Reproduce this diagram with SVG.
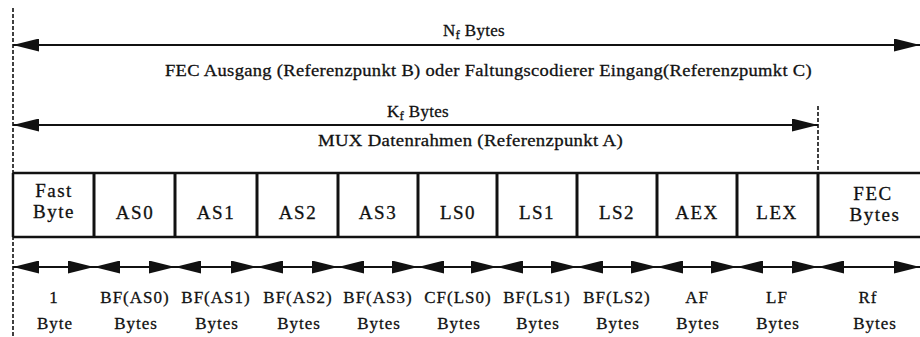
<svg xmlns="http://www.w3.org/2000/svg" width="920" height="337" viewBox="0 0 920 337">
<style>
text{font-family:"Liberation Serif","Times New Roman",serif;fill:#111;stroke:#111;stroke-width:0.3;}
.hd{font-size:17px;letter-spacing:0.3px;}
.bx{font-size:19px;letter-spacing:1.5px;text-anchor:middle;}
.bt{font-size:17px;letter-spacing:1px;text-anchor:middle;}
.arr{stroke:#111;stroke-width:2;fill:none;marker-start:url(#ah);marker-end:url(#ah);}
.dash{stroke:#111;stroke-width:1.6;stroke-dasharray:4 2;fill:none;}
.frame{stroke:#111;stroke-width:2.5;fill:none;}
.div{stroke:#111;stroke-width:3;fill:none;}
</style>
<defs>
<marker id="ah" viewBox="0 0 26 13" refX="26" refY="6.5" markerWidth="26" markerHeight="13" markerUnits="userSpaceOnUse" orient="auto-start-reverse">
<path d="M0,0 L26,6.5 L0,13 z" fill="#111"/>
</marker>
</defs>
<rect width="920" height="337" fill="#fff"/>

<g id="connectors">
<line class="dash" x1="13" y1="8" x2="13" y2="337"/>
<line class="dash" x1="818" y1="106" x2="818" y2="173"/>
<line class="arr" x1="13" y1="45" x2="920" y2="45"/>
<line class="arr" x1="13" y1="125" x2="818" y2="125"/>
<line class="arr" x1="13" y1="267" x2="94" y2="267"/>
<line class="arr" x1="94" y1="267" x2="175" y2="267"/>
<line class="arr" x1="175" y1="267" x2="257" y2="267"/>
<line class="arr" x1="257" y1="267" x2="338" y2="267"/>
<line class="arr" x1="338" y1="267" x2="418" y2="267"/>
<line class="arr" x1="418" y1="267" x2="497" y2="267"/>
<line class="arr" x1="497" y1="267" x2="577" y2="267"/>
<line class="arr" x1="577" y1="267" x2="657" y2="267"/>
<line class="arr" x1="657" y1="267" x2="737" y2="267"/>
<line class="arr" x1="737" y1="267" x2="818" y2="267"/>
<line class="arr" x1="818" y1="267" x2="920" y2="267"/>
</g>

<g id="labels-top">
<text class="hd" x="443" y="36">N<tspan font-size="13" dy="3">f</tspan><tspan dy="-3"> Bytes</tspan></text>
<text class="hd" x="165" y="76" textLength="647" lengthAdjust="spacingAndGlyphs">FEC Ausgang (Referenzpunkt B) oder Faltungscodierer Eingang(Referenzpumkt C)</text>
<text class="hd" x="387" y="117">K<tspan font-size="13" dy="3">f</tspan><tspan dy="-3"> Bytes</tspan></text>
<text class="hd" x="318" y="146" textLength="305" lengthAdjust="spacingAndGlyphs">MUX Datenrahmen (Referenzpunkt A)</text>
</g>

<g id="frame">
<line class="frame" x1="13" y1="173" x2="920" y2="173"/>
<line class="frame" x1="13" y1="237" x2="920" y2="237"/>
<line class="frame" x1="13" y1="173" x2="13" y2="237"/>
</g>

<g id="cell-fast"><text class="bx" x="54" y="197">Fast</text><text class="bx" x="54" y="218">Byte</text></g>
<g id="cell-as0"><line class="div" x1="94" y1="173" x2="94" y2="237"/><text class="bx" x="135" y="219">AS0</text></g>
<g id="cell-as1"><line class="div" x1="175" y1="173" x2="175" y2="237"/><text class="bx" x="216" y="219">AS1</text></g>
<g id="cell-as2"><line class="div" x1="257" y1="173" x2="257" y2="237"/><text class="bx" x="298" y="219">AS2</text></g>
<g id="cell-as3"><line class="div" x1="338" y1="173" x2="338" y2="237"/><text class="bx" x="378" y="219">AS3</text></g>
<g id="cell-ls0"><line class="div" x1="418" y1="173" x2="418" y2="237"/><text class="bx" x="458" y="219">LS0</text></g>
<g id="cell-ls1"><line class="div" x1="497" y1="173" x2="497" y2="237"/><text class="bx" x="537" y="219">LS1</text></g>
<g id="cell-ls2"><line class="div" x1="577" y1="173" x2="577" y2="237"/><text class="bx" x="617" y="219">LS2</text></g>
<g id="cell-aex"><line class="div" x1="657" y1="173" x2="657" y2="237"/><text class="bx" x="697" y="219">AEX</text></g>
<g id="cell-lex"><line class="div" x1="737" y1="173" x2="737" y2="237"/><text class="bx" x="777" y="219">LEX</text></g>
<g id="cell-fec"><line class="div" x1="818" y1="173" x2="818" y2="237"/><text class="bx" x="873" y="200">FEC</text><text class="bx" x="875" y="221">Bytes</text></g>

<g id="labels-bottom">
<text class="bt" x="54" y="303">1</text><text class="bt" x="55" y="329">Byte</text>
<text class="bt" x="135" y="303">BF(AS0)</text><text class="bt" x="136" y="329">Bytes</text>
<text class="bt" x="216" y="303">BF(AS1)</text><text class="bt" x="217" y="329">Bytes</text>
<text class="bt" x="298" y="303">BF(AS2)</text><text class="bt" x="299" y="329">Bytes</text>
<text class="bt" x="378" y="303">BF(AS3)</text><text class="bt" x="379" y="329">Bytes</text>
<text class="bt" x="458" y="303">CF(LS0)</text><text class="bt" x="459" y="329">Bytes</text>
<text class="bt" x="537" y="303">BF(LS1)</text><text class="bt" x="538" y="329">Bytes</text>
<text class="bt" x="617" y="303">BF(LS2)</text><text class="bt" x="618" y="329">Bytes</text>
<text class="bt" x="697" y="303">AF</text><text class="bt" x="698" y="329">Bytes</text>
<text class="bt" x="777" y="303">LF</text><text class="bt" x="778" y="329">Bytes</text>
<text class="bt" x="868" y="303">Rf</text><text class="bt" x="875" y="329">Bytes</text>
</g>
</svg>
